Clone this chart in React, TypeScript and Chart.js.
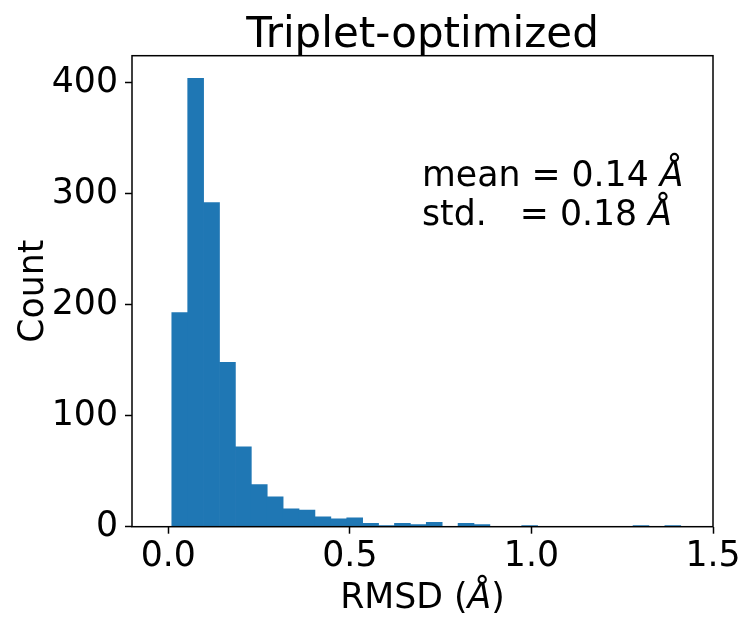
import React, { useEffect, useRef } from "react";
import { Chart, registerables } from "chart.js";

Chart.register(...registerables);

// Histogram bins (centres, Å) and counts
const binCenters = [
  0.0315, 0.0753, 0.1191, 0.1629, 0.2067, 0.2505, 0.2943, 0.3381, 0.3819, 0.4257,
  0.4695, 0.5133, 0.5571, 0.6009, 0.6447, 0.6885, 0.7323, 0.7761, 0.8199, 0.8637,
  0.9075, 0.9513, 0.9951, 1.0389, 1.0827, 1.1265, 1.1703, 1.2141, 1.2579, 1.3017,
  1.3455, 1.3893,
];
const counts = [
  193, 404, 292, 148, 72, 38, 27, 16, 15, 9,
  7, 8, 3, 1, 3, 2, 4, 0, 3, 2,
  0, 0, 1, 0, 0, 0, 0, 0, 0, 1,
  0, 1,
];
const xTicks = [0.0, 0.5, 1.0, 1.5];
const yTicks = [0, 100, 200, 300, 400];
const titleText = "Triplet-optimized";
const yLabelText = "Count";
const xLabelParts: [string, boolean][] = [["RMSD (", false], ["Å", true], [")", false]];
const statLines: [string, boolean][][] = [
  [["mean = 0.14 ", false], ["Å", true]],
  [["std.   = 0.18 ", false], ["Å", true]],
];

const FONT = "'DejaVu Sans', sans-serif";
const BASE = 34.7;

function drawMixed(ctx: CanvasRenderingContext2D, parts: [string, boolean][], x: number, y: number, size: number, align: "left" | "center") {
  const widths = parts.map(([t, it]) => {
    ctx.font = `${it ? "italic " : ""}${size}px ${FONT}`;
    return ctx.measureText(t).width;
  });
  const total = widths.reduce((a, b) => a + b, 0);
  let cx = align === "center" ? x - total / 2 : x;
  ctx.textAlign = "left";
  ctx.textBaseline = "alphabetic";
  parts.forEach(([t, it], i) => {
    ctx.font = `${it ? "italic " : ""}${size}px ${FONT}`;
    ctx.fillText(t, cx, y);
    cx += widths[i];
  });
}

const decor = {
  id: "decor",
  afterDraw(chart: any) {
    const { ctx, chartArea: a } = chart;
    ctx.save();
    ctx.strokeStyle = "#000";
    ctx.lineWidth = 1.5;
    ctx.strokeRect(a.left, a.top, a.right - a.left, a.bottom - a.top);
    ctx.fillStyle = "#000";
    const cx = (a.left + a.right) / 2;
    // title
    ctx.font = `42px ${FONT}`;
    ctx.textAlign = "center";
    ctx.textBaseline = "alphabetic";
    ctx.fillText(titleText, cx, 47);
    // x label
    drawMixed(ctx, xLabelParts, cx, 608, BASE, "center");
    // y label
    ctx.save();
    ctx.translate(43, (a.top + a.bottom) / 2);
    ctx.rotate(-Math.PI / 2);
    ctx.font = `${BASE}px ${FONT}`;
    ctx.textAlign = "center";
    ctx.textBaseline = "alphabetic";
    ctx.fillText(yLabelText, 0, 0);
    ctx.restore();
    // stats
    drawMixed(ctx, statLines[0], 422, 186, BASE, "left");
    drawMixed(ctx, statLines[1], 422, 225, BASE, "left");
    ctx.restore();
  },
};

export default function App() {
  const ref = useRef<HTMLCanvasElement | null>(null);
  useEffect(() => {
    if (!ref.current) return;
    const data = binCenters.map((x, i) => ({ x, y: counts[i] }));
    const chart = new Chart(ref.current, {
      type: "bar",
      data: {
        datasets: [
          {
            data: data as any,
            backgroundColor: "#1f77b4",
            borderColor: "#1f77b4",
            borderWidth: 0,
            barPercentage: 1,
            categoryPercentage: 1,
          },
        ],
      },
      options: {
        responsive: false,
        animation: false,
        layout: { padding: { top: 55.7, right: 30, bottom: 0, left: 0 } },
        plugins: { legend: { display: false }, tooltip: { enabled: false }, title: { display: false } },
        scales: {
          x: {
            type: "linear",
            min: -0.1,
            max: 1.5,
            offset: false,
            afterBuildTicks: (s: any) => {
              s.ticks = xTicks.map((v) => ({ value: v }));
            },
            afterFit: (s: any) => {
              s.height = 617 - 526.7;
            },
            ticks: {
              color: "#000",
              font: { family: FONT, size: BASE },
              padding: 2,
              maxRotation: 0,
              autoSkip: false,
              callback: (v: any) => Number(v).toFixed(1),
            },
            grid: { display: true, offset: false, drawOnChartArea: false, drawTicks: true, tickLength: 7, tickWidth: 1.5, tickColor: "#000" },
            border: { display: false },
          },
          y: {
            type: "linear",
            min: 0,
            max: 424.3,
            afterBuildTicks: (s: any) => {
              s.ticks = yTicks.map((v) => ({ value: v }));
            },
            afterFit: (s: any) => {
              s.width = 132;
            },
            ticks: {
              color: "#000",
              font: { family: FONT, size: BASE },
              padding: 7,
              autoSkip: false,
              callback: (v: any) => String(v),
            },
            grid: { display: true, offset: false, drawOnChartArea: false, drawTicks: true, tickLength: 7, tickWidth: 1.5, tickColor: "#000" },
            border: { display: false },
          },
        },
      },
      plugins: [decor],
    });
    return () => chart.destroy();
  }, []);
  return (
    <div style={{ position: "fixed", left: 0, top: 0, width: 743, height: 617, background: "#fff" }}>
      <canvas ref={ref} width={743} height={617} style={{ width: 743, height: 617 }} />
    </div>
  );
}
